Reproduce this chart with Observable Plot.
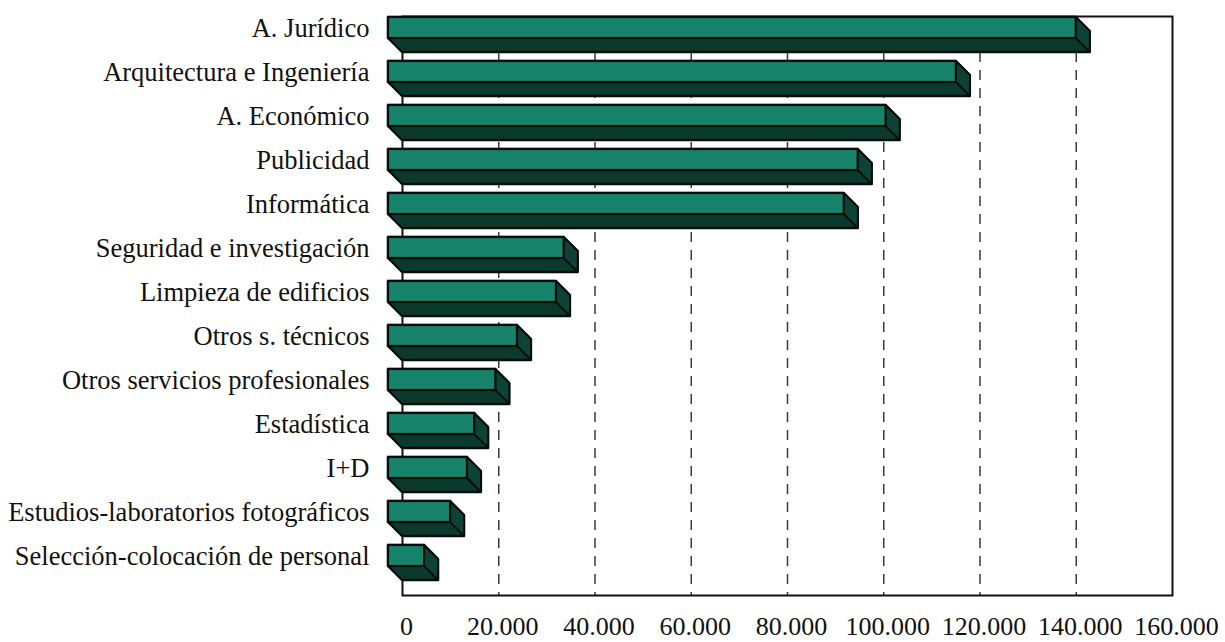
<!DOCTYPE html>
<html>
<head>
<meta charset="utf-8">
<script src="https://cdn.jsdelivr.net/npm/d3@7"></script>
<script src="https://cdn.jsdelivr.net/npm/@observablehq/plot@0.6"></script>
<style>
  html, body { margin: 0; padding: 0; background: #ffffff; }
  #chart { width: 1225px; height: 642px; }
</style>
</head>
<body>
<div id="chart"></div>
<script>
const categories = [
  "A. Jurídico",
  "Arquitectura e Ingeniería",
  "A. Económico",
  "Publicidad",
  "Informática",
  "Seguridad e investigación",
  "Limpieza de edificios",
  "Otros s. técnicos",
  "Otros servicios profesionales",
  "Estadística",
  "I+D",
  "Estudios-laboratorios fotográficos",
  "Selección-colocación de personal"
];
const values = [142900, 118000, 103400, 97600, 94700, 36500, 34900, 26800, 22300, 17900, 16400, 12900, 7500];
const xTicks = [0, 20000, 40000, 60000, 80000, 100000, 120000, 140000, 160000];
const xTickLabels = ["0", "20.000", "40.000", "60.000", "80.000", "100.000", "120.000", "140.000", "160.000"];
const gridValues = [20000, 40000, 60000, 80000, 100000, 120000, 140000];

const data = categories.map((c, i) => ({cat: c, value: values[i]}));

const FRONT = "#17836a";
const DARK = "#0b3a2d";
const SIDE = "#0d4236";
const EDGE = "#070c0a";
const DEPTH = 14;

function bar3d(index, scales, vals, dimensions, context, next) {
  const base = next(index, scales, vals, dimensions, context);
  const rects = Array.from(base.querySelectorAll("rect"));
  const g = d3.create("svg:g");
  for (const r of rects) {
    const x = +r.getAttribute("x"), y = +r.getAttribute("y");
    const w = +r.getAttribute("width"), h = +r.getAttribute("height");
    const fx0 = x - DEPTH, fx1 = x + w - DEPTH, fy0 = y, fy1 = y + h - DEPTH;
    const bx0 = x, bx1 = x + w, by0 = y + DEPTH, by1 = y + h;
    g.append("path")
      .attr("d", `M${fx0},${fy0}H${fx1}L${bx1},${by0}V${by1}H${bx0}L${fx0},${fy1}Z`)
      .attr("fill", DARK).attr("stroke", EDGE).attr("stroke-width", 2.4).attr("stroke-linejoin", "round");
    g.append("path")
      .attr("d", `M${fx1},${fy0}L${bx1},${by0}V${by1}L${fx1},${fy1}Z`)
      .attr("fill", SIDE).attr("stroke", EDGE).attr("stroke-width", 1.8).attr("stroke-linejoin", "round");
    g.append("rect")
      .attr("x", fx0).attr("y", fy0).attr("width", fx1 - fx0).attr("height", fy1 - fy0)
      .attr("fill", FRONT).attr("stroke", EDGE).attr("stroke-width", 2.2);
  }
  return g.node();
}

const chart = Plot.plot({
  width: 1225,
  height: 642,
  marginLeft: 402,
  marginRight: 53,
  marginTop: 16,
  marginBottom: 47,
  style: {fontFamily: "'Liberation Serif', 'Times New Roman', serif", background: "#ffffff", color: "#111"},
  x: {domain: [0, 160000]},
  y: {domain: categories, range: [15, 581.6], paddingInner: 0.21, paddingOuter: 0},
  marks: [
    Plot.ruleX(gridValues, {stroke: "#3a3a3a", strokeWidth: 1.5, strokeDasharray: "10,8"}),
    Plot.frame({stroke: "#111", strokeWidth: 2}),
    Plot.barX(data, {x1: () => 0, x2: "value", y: "cat", render: bar3d}),
    Plot.axisY({tickSize: 0, tickPadding: 33, fontSize: 26.5, dy: -6, label: null, textAnchor: "end"}),
    Plot.axisX({ticks: xTicks, tickFormat: (d, i) => xTickLabels[i], tickSize: 0, tickPadding: 21, fontSize: 26, dx: 4, label: null})
  ]
});
document.getElementById("chart").appendChild(chart);
</script>
</body>
</html>
